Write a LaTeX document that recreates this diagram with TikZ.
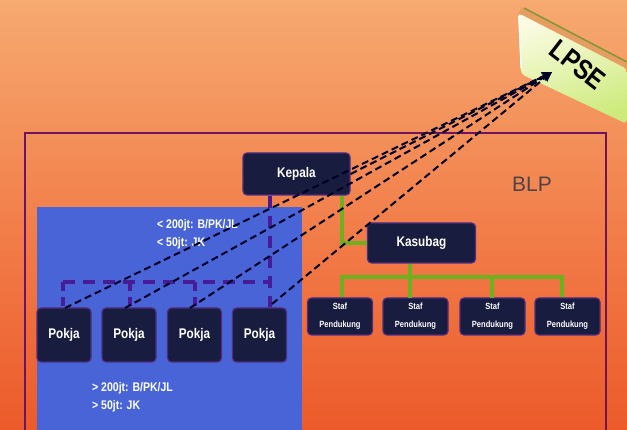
\documentclass[tikz,border=0pt]{standalone}
\usepackage{fontspec}
\setmainfont{Liberation Sans}
\newfontfamily\cond[FakeStretch=0.84]{Liberation Sans}
\usetikzlibrary{arrows.meta}
\definecolor{bgtop}{RGB}{246,170,112}
\definecolor{bgmid}{RGB}{242,128,76}
\definecolor{bgbot}{RGB}{236,90,42}
\definecolor{blpblue}{RGB}{72,100,214}
\definecolor{boxnavy}{RGB}{24,28,62}
\definecolor{boxedge}{RGB}{80,44,130}
\definecolor{framepurple}{RGB}{110,20,90}
\definecolor{dashpurple}{RGB}{72,28,150}
\definecolor{linkgreen}{RGB}{108,178,32}
\definecolor{blptext}{RGB}{78,68,70}
\definecolor{platelight}{RGB}{250,251,225}
\definecolor{plategreen}{RGB}{205,235,125}
\definecolor{plateedge}{RGB}{130,150,50}
\tikzset{
  orgbox/.style={draw=boxedge, line width=1.2pt, fill=boxnavy, rounded corners=4pt,
    text=white, font=\cond\bfseries\fontsize{14}{14}\selectfont, inner sep=0pt, align=center},
  stafbox/.style={orgbox, minimum width=65pt, minimum height=37pt,
    font=\cond\bfseries\fontsize{9}{18}\selectfont},
  pokjabox/.style={orgbox, minimum width=54pt, minimum height=54pt},
  greenlink/.style={draw=linkgreen, line width=3.4pt},
  purpledash/.style={draw=dashpurple, line width=3.6pt, dash pattern=on 12pt off 8pt},
  shortdash/.style={purpledash, dash pattern=on 9pt off 6pt},
  lpselink/.style={draw=black!85!blue, line width=2pt, dash pattern=on 7pt off 4pt,
    -{Stealth[length=10pt,width=9pt]}},
  notetext/.style={text=white, font=\cond\bfseries\fontsize{12.5}{18}\selectfont, align=left, anchor=west, inner sep=0pt}
}
\begin{document}
\begin{tikzpicture}[x=1pt,y=-1pt]
\useasboundingbox (0,0) rectangle (627,430);
% background
\shade[top color=bgtop, bottom color=bgbot, middle color=bgmid] (0,0) rectangle (627,430);
% BLP frame
\draw[framepurple, line width=1.4pt] (25,432) -- (25,133) -- (606,133) -- (606,432);
% blue area
\fill[blpblue] (37,207) rectangle (302,432);
\node[text=blptext, font=\fontsize{21}{21}\selectfont, inner sep=0pt] (blp) at (532,184) {BLP};
% LPSE plate
\fill[bgtop!70!brown] (522,8) -- (627,62) -- (627,69) -- (518,13) -- cycle;
\shade[top color=platelight, bottom color=plategreen, shading angle=20, rounded corners=4pt]
  (518,13) -- (627,69) -- (627,124) -- (521,74) -- cycle;
\draw[plateedge, line width=1.5pt] (524,8) -- (627,62);
\draw[white, line width=1.2pt] (519,16) -- (521,68);
\node[rotate=-38, font=\cond\bfseries\fontsize{28}{28}\selectfont, inner sep=0pt] (lpse) at (578,65) {LPSE};
\coordinate (lpsetip) at (552,72);
% nodes
\node[orgbox, minimum width=107pt, minimum height=42pt] (kepala) at (296.5,174) {Kepala};
\node[orgbox, minimum width=108pt, minimum height=40pt] (kasubag) at (421.5,243) {Kasubag};
\node[stafbox] (staf1) at (340,316.5) {Staf\\Pendukung};
\node[stafbox] (staf2) at (415.5,316.5) {Staf\\Pendukung};
\node[stafbox] (staf3) at (492.5,316.5) {Staf\\Pendukung};
\node[stafbox] (staf4) at (567.5,316.5) {Staf\\Pendukung};
\node[pokjabox] (pokja1) at (64,335) {Pokja};
\node[pokjabox] (pokja2) at (129,335) {Pokja};
\node[pokjabox] (pokja3) at (194.5,335) {Pokja};
\node[pokjabox] (pokja4) at (259.5,335) {Pokja};
\node[notetext] (lowtext) at (157,234) {< 200jt: B/PK/JL\\< 50jt: JK};
\node[notetext] (hightext) at (92,397) {> 200jt: B/PK/JL\\> 50jt: JK};
% green links
\coordinate (gk) at (342,243);
\draw[greenlink] (kepala.south -| gk) -- (gk) -- (kasubag.west);
\coordinate (bus1) at (342,277);
\coordinate (bus4) at (562,277);
\coordinate (kasdown) at (410,277);
\draw[greenlink] (kasubag.south -| kasdown) -- (kasdown);
\draw[greenlink, line cap=rect] (bus1) -- (bus4);
\draw[greenlink] (bus1) -- (bus1 |- staf1.north);
\draw[greenlink] (410,277) -- (410,298);
\draw[greenlink] (492,277) -- (492,298);
\draw[greenlink] (bus4) -- (bus4 |- staf4.north);
% purple dashed links
\coordinate (pd1) at (63,282);
\coordinate (pd2) at (130,282);
\coordinate (pd3) at (195,282);
\coordinate (pd4) at (270,282);
\draw[purpledash] (kepala.south -| pd4) -- (pd4 |- pokja4.north);
\draw[purpledash] (pd1) -- (pd4);
\draw[shortdash] (pd1) -- (pd1 |- pokja1.north);
\draw[shortdash] (pd2) -- (pd2 |- pokja2.north);
\draw[shortdash] (pd3) -- (pd3 |- pokja3.north);
% links to LPSE
\draw[lpselink] (65,308) -- (lpsetip);
\draw[lpselink] (125,308) -- (lpsetip);
\draw[lpselink] (190,308) -- (lpsetip);
\draw[lpselink] (272,304) -- (lpsetip);
\draw[lpselink] (kepala.east) -- (lpsetip);
\end{tikzpicture}
\end{document}
